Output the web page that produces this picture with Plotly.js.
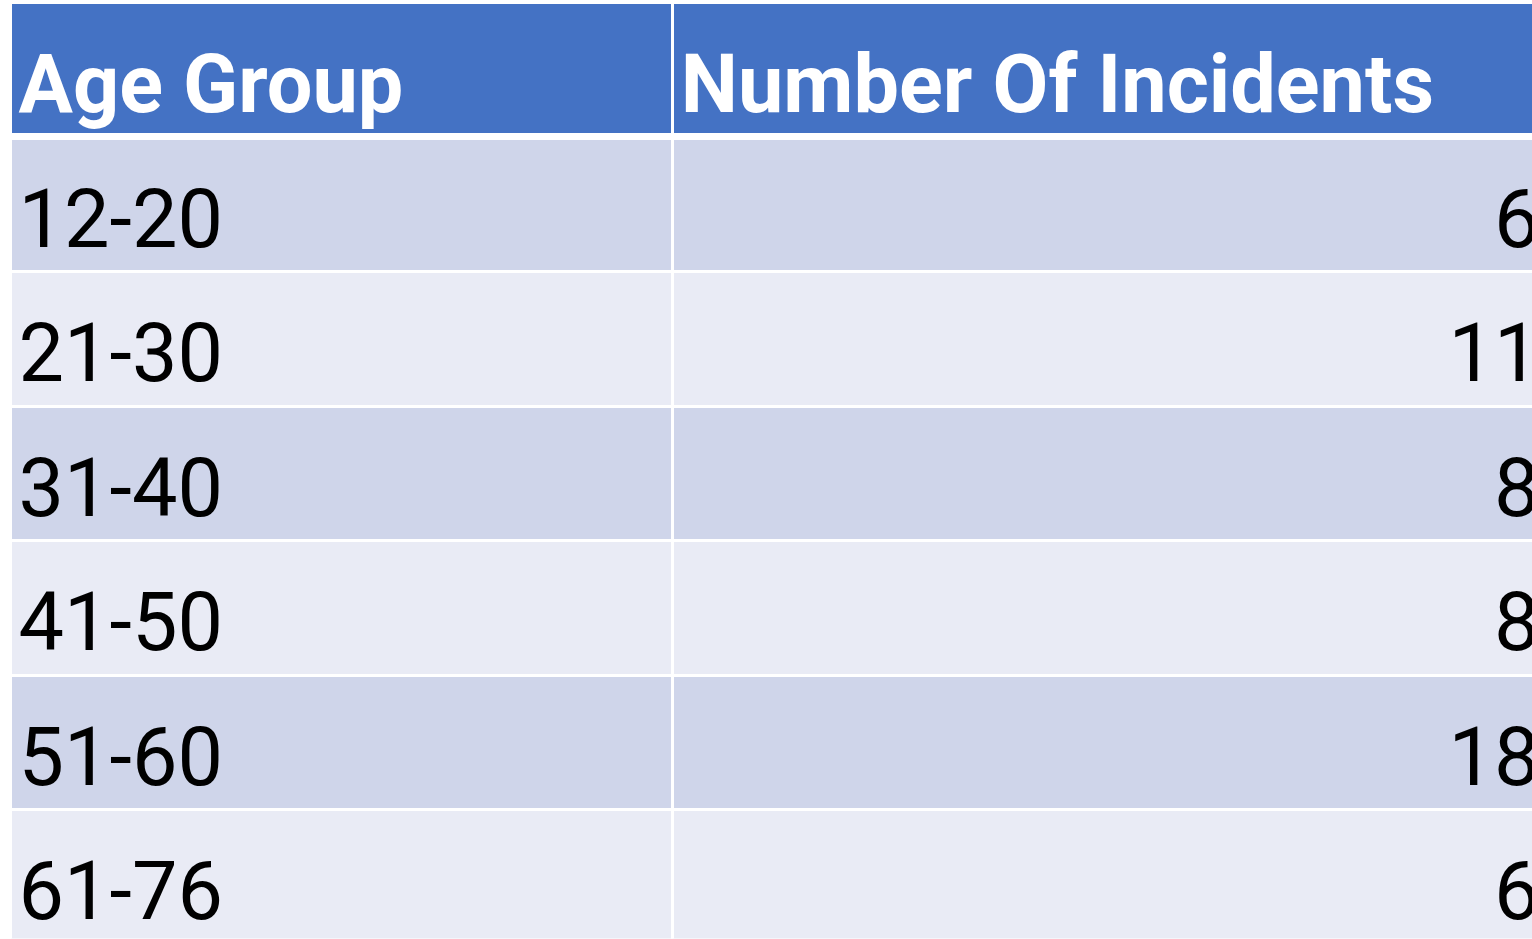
<!DOCTYPE html>
<html>
<head>
<meta charset="utf-8">
<script src="https://cdn.plot.ly/plotly-3.0.1.min.js"></script>
<style>
html, body { margin: 0; padding: 0; overflow: hidden; background: #ffffff; }
#chart { width: 1560px; height: 939px; }
#chart .cell-text { transform: translateY(41px); }
</style>
</head>
<body>
<div id="chart"></div>
<script>
const headers = ["Age Group", "Number Of Incidents"];
const ageGroups = ["12-20", "21-30", "31-40", "41-50", "51-60", "61-76"];
const incidents = [6, 11, 8, 8, 18, 6];

const W = 1560, H = 939;
const rowColors = ageGroups.map((_, i) => i % 2 === 0 ? "#CFD5EA" : "#E9EBF5");

const trace = {
  type: "table",
  domain: { x: [10.5 / W, 1548 / W], y: [0, 1 - 2.5 / H] },
  columnwidth: [662.5, 875],
  header: {
    values: headers,
    align: ["left", "left"],
    height: 134.5,
    fill: { color: "#4472C4" },
    line: { color: "#ffffff", width: 3 },
    font: { family: "Roboto, sans-serif", size: 81, color: "#ffffff", weight: "bold" }
  },
  cells: {
    values: [ageGroups, incidents],
    align: ["left", "right"],
    height: 134.5,
    fill: { color: [rowColors, rowColors] },
    line: { color: "#ffffff", width: 3 },
    font: { family: "Roboto, sans-serif", size: 81, color: "#000000" }
  }
};

const layout = {
  width: W,
  height: H,
  margin: { l: 0, r: 0, t: 0, b: 0 },
  paper_bgcolor: "#ffffff",
  shapes: [{
    type: "rect", xref: "paper", yref: "paper",
    x0: 10 / W, x1: 1548 / W, y0: 1 - 140 / H, y1: 1 - 133 / H,
    fillcolor: "#ffffff", line: { width: 0 }, layer: "above"
  }]
};

Plotly.newPlot("chart", [trace], layout, { displayModeBar: false, staticPlot: true });
</script>
</body>
</html>
